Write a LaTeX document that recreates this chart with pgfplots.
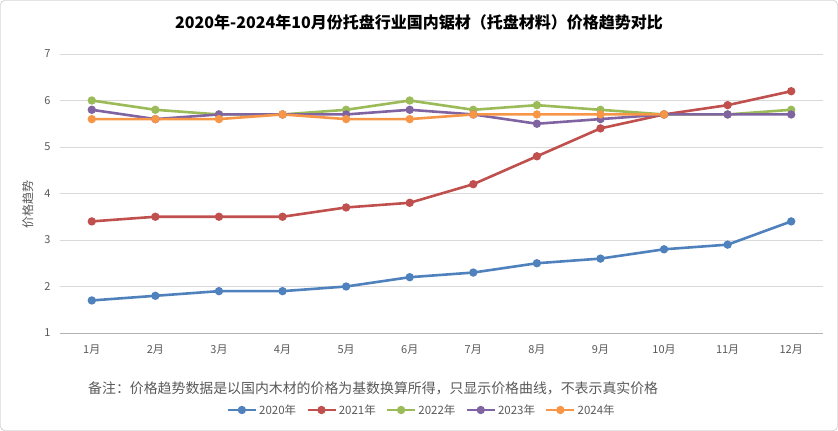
\documentclass[border=0pt]{standalone}
\usepackage{pgfplots}
\pgfplotsset{compat=1.18}
\usepackage{fontspec}
\setmainfont{Noto Sans CJK SC}
\definecolor{c1}{HTML}{4F81BD}
\definecolor{c2}{HTML}{C0504D}
\definecolor{c3}{HTML}{9BBB59}
\definecolor{c4}{HTML}{8064A2}
\definecolor{c5}{HTML}{F79646}
\definecolor{txt}{HTML}{595959}
\begin{document}
\begin{tikzpicture}
\path[use as bounding box] (0pt,0pt) rectangle (838pt,431pt);
\draw[draw=black!30, rounded corners=4pt] (0.5pt,0.5pt) rectangle (837.5pt,430.5pt);
\node[font=\bfseries\fontsize{16}{18}\selectfont] at (419pt,409pt) {2020年-2024年10月份托盘行业国内锯材（托盘材料）价格趋势对比};
\node[anchor=west, text=txt, font=\fontsize{13.9}{15}\selectfont, inner sep=0pt] at (88pt,43pt) {备注：价格趋势数据是以国内木材的价格为基数换算所得，只显示价格曲线，不表示真实价格};
\begin{axis}[
  at={(60pt,98pt)}, anchor=south west,
  scale only axis, width=763pt, height=279pt,
  xmin=0.5, xmax=12.5, ymin=1, ymax=7,
  xtick={1,...,12},
  xticklabels={1月,2月,3月,4月,5月,6月,7月,8月,9月,10月,11月,12月},
  ytick={1,...,7},
  axis line style={draw=none},
  ymajorgrids, grid style={draw=black!15, line width=0.8pt},
  major tick length=0pt,
  tick label style={text=txt, font=\fontsize{11}{13}\selectfont},
  /pgf/number format/assume math mode=true,
  xticklabel style={yshift=-8pt},
  yticklabel style={xshift=-6pt},
  ylabel={价格趋势}, ylabel style={text=txt, font=\fontsize{12}{14}\selectfont, at={(axis description cs:-0.042,0.46)}, anchor=center},
  clip=false,
  every axis plot/.append style={line width=2.6pt, mark=*, mark size=2.8pt, mark options={solid}},
  legend columns=5,
  legend style={at={(axis description cs:0.474,-0.276)}, anchor=center, draw=none, fill=none,
    font=\fontsize{11.5}{14}\selectfont, text=txt,
    /tikz/every even column/.append style={column sep=8pt},
    /tikz/every odd column/.append style={column sep=0pt}},
  legend cell align=left,
  legend image code/.code={\draw[#1, line width=2.6pt] (0pt,0pt) -- (28pt,0pt); \fill[#1] (14pt,0pt) circle (2.8pt);},
]
\draw[black!30, line width=0.8pt] (axis cs:0.5,1) -- (axis cs:12.5,1);
\addplot[c1] coordinates {(1,1.7)(2,1.8)(3,1.9)(4,1.9)(5,2.0)(6,2.2)(7,2.3)(8,2.5)(9,2.6)(10,2.8)(11,2.9)(12,3.4)};
\addplot[c2] coordinates {(1,3.4)(2,3.5)(3,3.5)(4,3.5)(5,3.7)(6,3.8)(7,4.2)(8,4.8)(9,5.4)(10,5.7)(11,5.9)(12,6.2)};
\addplot[c3] coordinates {(1,6.0)(2,5.8)(3,5.7)(4,5.7)(5,5.8)(6,6.0)(7,5.8)(8,5.9)(9,5.8)(10,5.7)(11,5.7)(12,5.8)};
\addplot[c4] coordinates {(1,5.8)(2,5.6)(3,5.7)(4,5.7)(5,5.7)(6,5.8)(7,5.7)(8,5.5)(9,5.6)(10,5.7)(11,5.7)(12,5.7)};
\addplot[c5] coordinates {(1,5.6)(2,5.6)(3,5.6)(4,5.7)(5,5.6)(6,5.6)(7,5.7)(8,5.7)(9,5.7)(10,5.7)};
\legend{2020年,2021年,2022年,2023年,2024年}
\end{axis}
\end{tikzpicture}
\end{document}
